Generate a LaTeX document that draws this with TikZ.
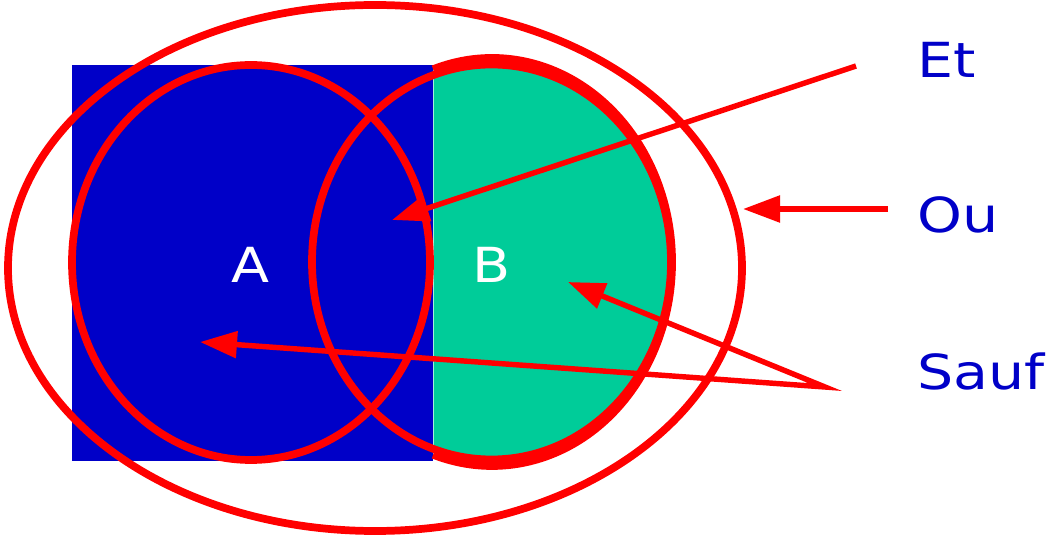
\documentclass[tikz,border=0pt]{standalone}
\usepackage{fontspec}
\setmainfont{DejaVu Sans}
\usetikzlibrary{arrows.meta,positioning}
\definecolor{SetBlue}{RGB}{0,0,200}
\definecolor{SetGreen}{RGB}{0,204,153}
\definecolor{SetRed}{RGB}{255,0,0}
\tikzset{
  ring/.style={draw=SetRed,line width=4.4pt},
  pointer/.style={->,>={Triangle[length=0.74cm,width=0.52cm]},draw=SetRed,line width=3.1pt},
  oplabel/.style={anchor=base west,inner sep=0pt,text=SetBlue,
    font=\fontsize{27.5}{32}\selectfont,xscale=1.18},
  setlabel/.style={anchor=base,inner sep=0pt,text=white,
    font=\fontsize{27.5}{32}\selectfont,xscale=1.15}
}
\begin{document}
\begin{tikzpicture}[x=0.02cm,y=-0.02cm]
  \useasboundingbox (0,0) rectangle (1047,536);
  % sets A and B
  \fill[SetBlue] (72,65) rectangle (432.5,461);
  \begin{scope}
    \clip (433.5,0) rectangle (700,536);
    \fill[SetGreen] (492,262) ellipse [x radius=180,y radius=204];
  \end{scope}
  \draw[ring] (375,268) ellipse [x radius=367,y radius=263];
  \draw[ring] (251,262.5) ellipse [x radius=179,y radius=197.5];
  \draw[ring] (491.5,262) ellipse [x radius=179.5,y radius=197.5];
  \draw[ring] (492,262) ++(-109.1:180 and 204)
    arc [start angle=-109.1,end angle=109.1,x radius=180,y radius=204];
  \node[setlabel] (lblA) at (251,283) {A};
  \node[setlabel] (lblB) at (492,283) {B};
  % operators
  \node[oplabel] (et) at (917,78) {Et};
  \node[oplabel] (ou) at (917,233) {Ou};
  \node[oplabel] (sauf) at (917,390) {Sauf};
  \coordinate (etTail) at (856,66);
  \coordinate (etTip) at (392,220);
  \coordinate (ouTail) at (888,209);
  \coordinate (ouTip) at (743,209);
  \coordinate (saufTail) at (825,387);
  \coordinate (saufA) at (200,342);
  \coordinate (saufB) at (568,282);
  \draw[pointer] (etTail) -- (etTip);
  \draw[pointer] (ouTail) -- (ouTip);
  \draw[pointer,<->,line join=miter] (saufA) -- (saufTail) -- (saufB);
\end{tikzpicture}
\end{document}
